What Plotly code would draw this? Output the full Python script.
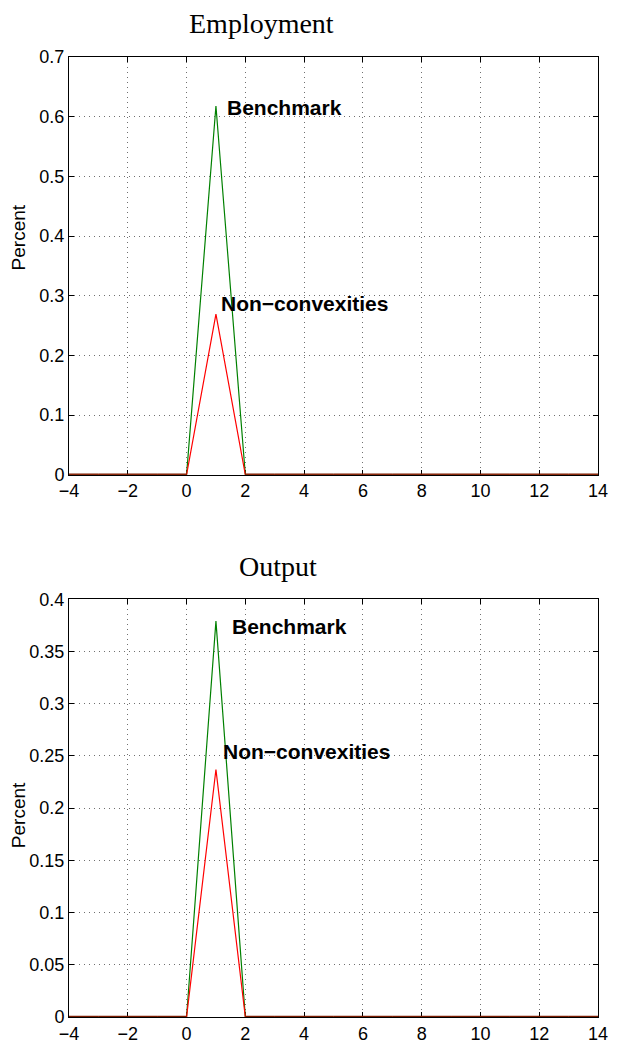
import plotly.graph_objects as go

# ---------------- data ----------------
x_vals = list(range(-4, 15))
emp_benchmark = [0, 0, 0, 0, 0, 0.618, 0, 0, 0, 0, 0, 0, 0, 0, 0, 0, 0, 0, 0]
emp_nonconv   = [0, 0, 0, 0, 0, 0.269, 0, 0, 0, 0, 0, 0, 0, 0, 0, 0, 0, 0, 0]
out_benchmark = [0, 0, 0, 0, 0, 0.379, 0, 0, 0, 0, 0, 0, 0, 0, 0, 0, 0, 0, 0]
out_nonconv   = [0, 0, 0, 0, 0, 0.237, 0, 0, 0, 0, 0, 0, 0, 0, 0, 0, 0, 0, 0]

panel_titles = ["Employment", "Output"]
x_ticks = [-4, -2, 0, 2, 4, 6, 8, 10, 12, 14]
emp_yticks = [0, 0.1, 0.2, 0.3, 0.4, 0.5, 0.6, 0.7]
out_yticks = [0, 0.05, 0.1, 0.15, 0.2, 0.25, 0.3, 0.35, 0.4]
labels = ["Benchmark", "Non\u2212convexities"]
# label anchor positions (data coords)
emp_label_pos = [(1.31, 0.615), (1.11, 0.287)]
out_label_pos = [(1.48, 0.374), (1.18, 0.254)]

GREEN = "#008000"
RED = "#ff0000"
OVERLAP = "#7a1c00"

W, H = 620, 1056
ML, MR, MT, MB = 69, 15, 57, 27
plot_h = H - MT - MB  # 972
panel_h = 423

fig = go.Figure()


def overlap_segments(xs, a, b):
    sx, sy = [], []
    for i in range(len(xs) - 1):
        if a[i] == 0 and a[i + 1] == 0 and b[i] == 0 and b[i + 1] == 0:
            sx += [xs[i], xs[i + 1], None]
            sy += [0, 0, None]
    return sx, sy


panels = [
    ("x", "y", emp_benchmark, emp_nonconv, emp_label_pos),
    ("x2", "y2", out_benchmark, out_nonconv, out_label_pos),
]

for xa, ya, bench, nonc, lpos in panels:
    fig.add_trace(go.Scatter(x=x_vals, y=bench, mode="lines", xaxis=xa, yaxis=ya,
                             line=dict(color=GREEN, width=1.2), showlegend=False,
                             cliponaxis=False))
    fig.add_trace(go.Scatter(x=x_vals, y=nonc, mode="lines", xaxis=xa, yaxis=ya,
                             line=dict(color=RED, width=1.2), showlegend=False,
                             cliponaxis=False))
    sx, sy = overlap_segments(x_vals, bench, nonc)
    fig.add_trace(go.Scatter(x=sx, y=sy, mode="lines", xaxis=xa, yaxis=ya,
                             line=dict(color=OVERLAP, width=2.5), showlegend=False,
                             cliponaxis=False))
    for text, (lx, ly) in zip(labels, lpos):
        fig.add_annotation(x=lx, y=ly, xref=xa, yref=ya, text="<b>%s</b>" % text,
                           showarrow=False, xanchor="left", yanchor="middle",
                           font=dict(family="Liberation Sans, Arial", size=21, color="black"))

top_dom = [1 - panel_h / plot_h, 1]
bot_dom = [0, panel_h / plot_h]

axis_common = dict(
    showline=True, linecolor="black", linewidth=1, mirror="ticks",
    ticks="inside", ticklen=5, tickcolor="black",
    showgrid=True, gridcolor="#707070", griddash="1px,4px", gridwidth=1,
    zeroline=False, layer="below traces",
    tickfont=dict(family="Liberation Sans, Arial", size=18, color="black"),
)

fig.update_layout(
    width=W, height=H,
    margin=dict(l=ML, r=MR, t=MT, b=MB),
    paper_bgcolor="white", plot_bgcolor="white",
    xaxis=dict(domain=[0, 1], anchor="y", range=[-4, 14], tickvals=x_ticks, **axis_common),
    yaxis=dict(domain=top_dom, anchor="x", range=[0, 0.7], tickvals=emp_yticks, **axis_common),
    xaxis2=dict(domain=[0, 1], anchor="y2", range=[-4, 14], tickvals=x_ticks, **axis_common),
    yaxis2=dict(domain=bot_dom, anchor="x2", range=[0, 0.4], tickvals=out_yticks, **axis_common),
)


def px_to_paper_x(px):
    return (px - ML) / (W - ML - MR)


def px_to_paper_y(py):
    return (H - MB - py) / plot_h


# titles
for title, (cx, cy) in zip(panel_titles, [(264, 23), (281, 573)]):
    fig.add_annotation(x=px_to_paper_x(cx), y=px_to_paper_y(cy), xref="paper", yref="paper",
                       text=title, showarrow=False, xanchor="center", yanchor="middle",
                       font=dict(family="Liberation Serif, Times New Roman", size=28, color="black"))

# y-axis labels
for cy in [240, 825]:
    fig.add_annotation(x=px_to_paper_x(18), y=px_to_paper_y(cy), xref="paper", yref="paper",
                       text="Percent", showarrow=False, textangle=-90,
                       xanchor="center", yanchor="middle",
                       font=dict(family="Liberation Sans, Arial", size=19, color="black"))

fig.write_html("out.html")
